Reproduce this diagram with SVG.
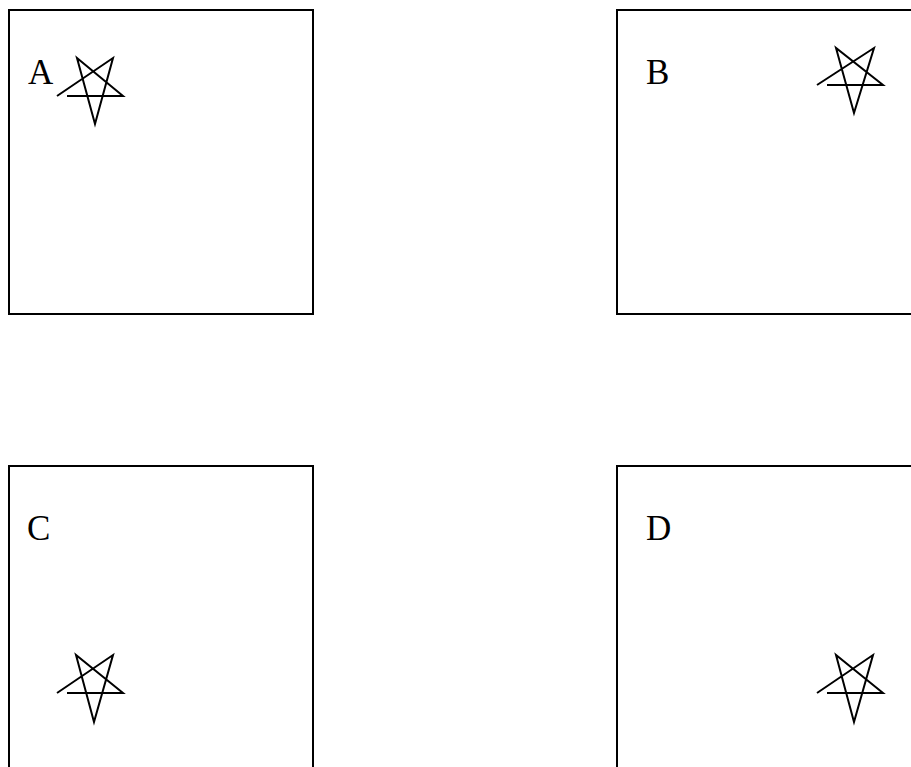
<svg xmlns="http://www.w3.org/2000/svg" width="911" height="767" viewBox="0 0 911 767">
<style>
.box{fill:none;stroke:#000;stroke-width:2}
.star{fill:none;stroke:#000;stroke-width:2;stroke-linejoin:miter}
.lbl{font-family:"Liberation Serif",serif;font-size:35px;font-weight:normal;fill:#000}
</style>
<rect width="911" height="767" fill="#fff"/>
<g id="A">
<rect class="box" x="9" y="10" width="304" height="304"/>
<text class="lbl" x="28" y="84">A</text>
<path class="star" d="M57,96 L113,58 L95,124 L77,58 L123,96 L67,96"/>
</g>
<g id="B">
<rect class="box" x="617" y="10" width="304" height="304"/>
<text class="lbl" x="646" y="84">B</text>
<path class="star" d="M817,85 L874,48 L854,113 L836,48 L883,85 L827,85"/>
</g>
<g id="C">
<rect class="box" x="9" y="466" width="304" height="304"/>
<text class="lbl" x="27" y="540">C</text>
<path class="star" d="M57,693 L113,655 L94,722 L76,655 L123,693 L67,693"/>
</g>
<g id="D">
<rect class="box" x="617" y="466" width="304" height="304"/>
<text class="lbl" x="646" y="540">D</text>
<path class="star" d="M817,693 L873,655 L854,722 L836,655 L883,693 L827,693"/>
</g>
<g id="connectors"></g>
</svg>
